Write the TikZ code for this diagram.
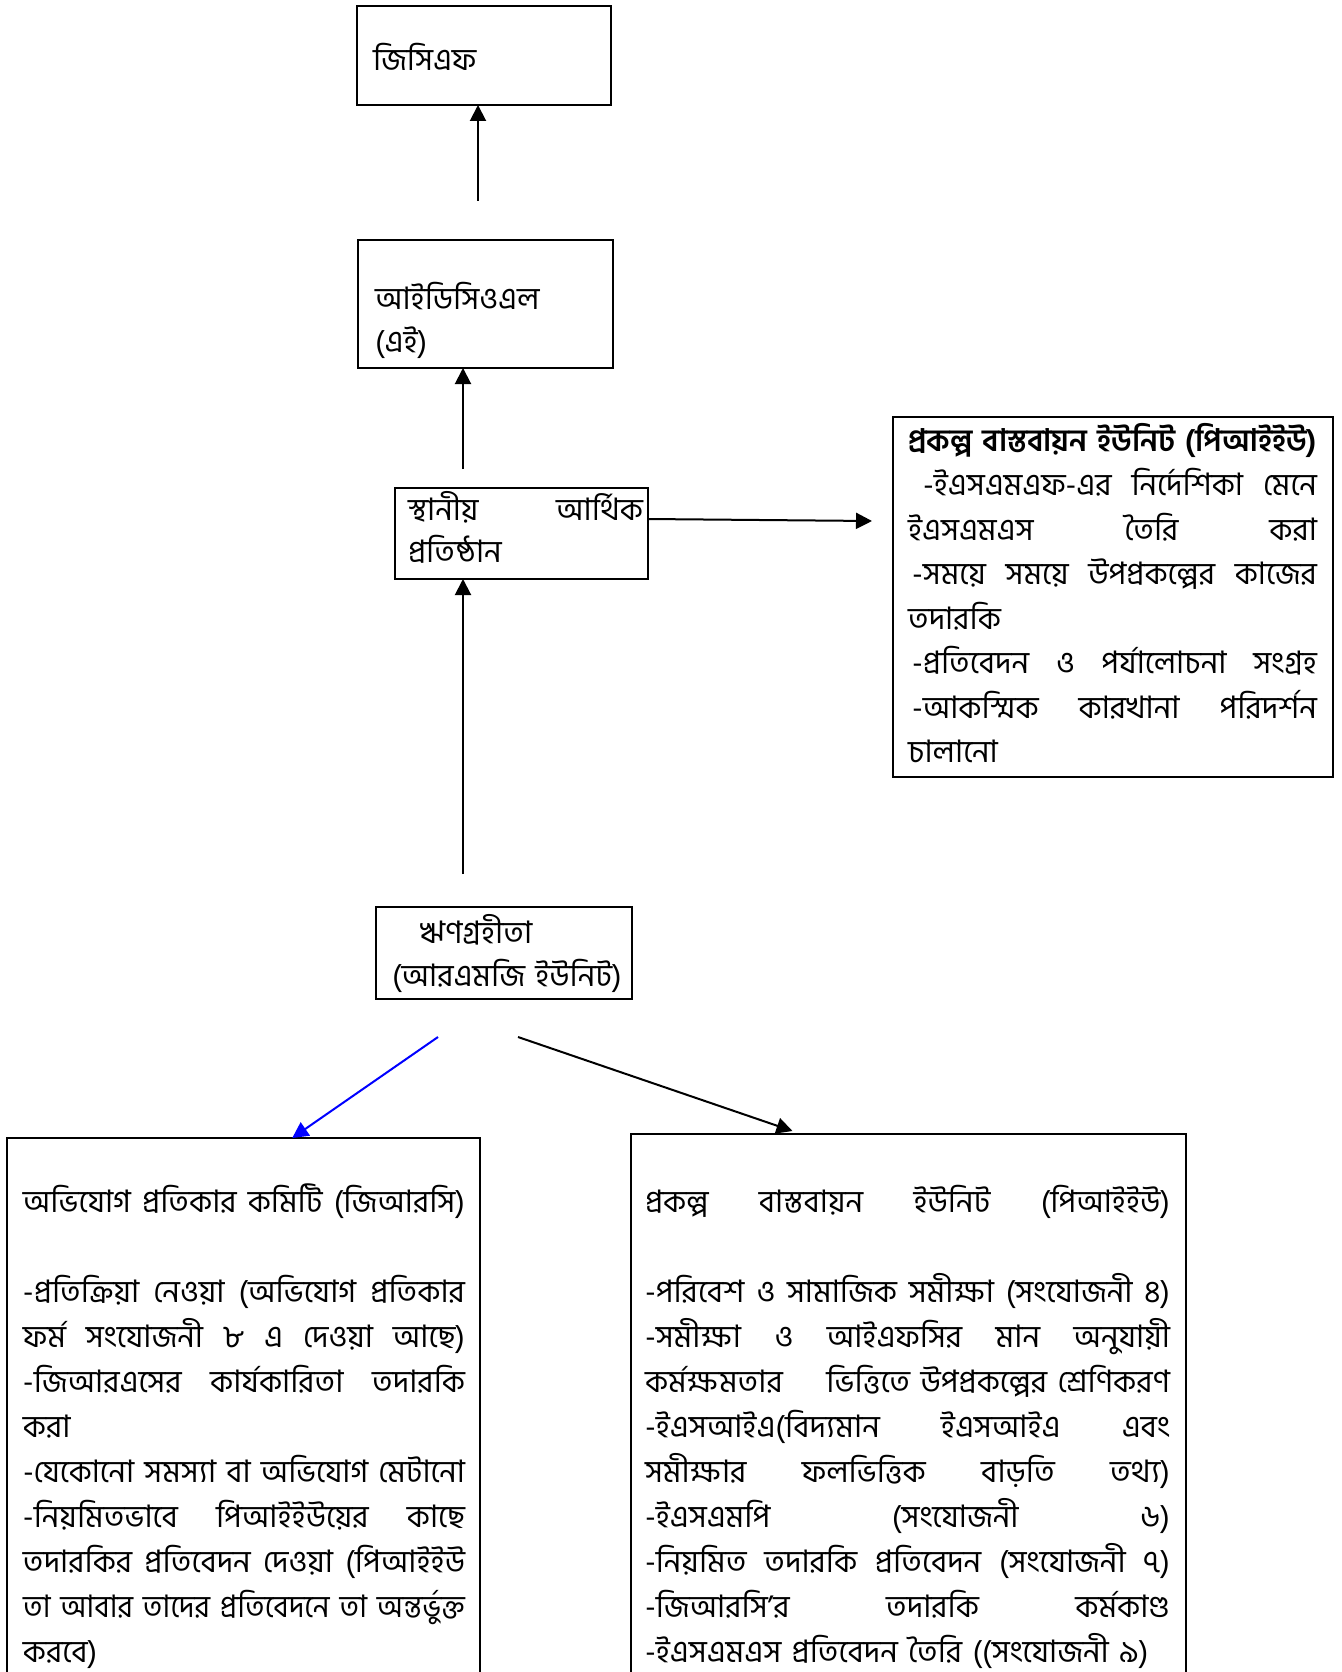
\documentclass[tikz,border=0pt]{standalone}
\usepackage{fontspec}
\usepackage{graphicx}
\newfontfamily\bn[Script=Bengali]{Hind Siliguri}
\usetikzlibrary{arrows.meta,calc}
\newsavebox\jbox
\newdimen\jw
% \jl[indent]{width}{text with \hfill between words}
\newcommand\jl[3][0pt]{\hspace*{#1}\jw=\dimexpr#2-#1\relax\sbox\jbox{#3}%
  \ifdim\wd\jbox>\jw\resizebox{\jw}{\height}{\usebox\jbox}\else\hbox to \jw{#3}\fi}
\begin{document}
\begin{tikzpicture}[x=1pt,y=-1pt,
  box/.style={draw,line width=2pt,inner sep=0pt,outer sep=0pt,anchor=north west},
  txt/.style={anchor=base west,inner sep=0pt,outer sep=0pt,align=left,font=\bn\fontsize{31}{45}\selectfont},
  arr/.style={line width=2pt,-{Triangle[width=16pt,length=16pt]}}]
\clip (0,0) rectangle (1341,1672);
\fill[white] (0,0) rectangle (1341,1672);
% boxes
\node[box,minimum width=254pt,minimum height=99pt] (gcf) at (357,6) {};
\node[box,minimum width=255pt,minimum height=128pt] (idcol) at (358,240) {};
\node[box,minimum width=253pt,minimum height=91pt] (local) at (395,488) {};
\node[box,minimum width=440pt,minimum height=360pt] (piuR) at (893,417) {};
\node[box,minimum width=256pt,minimum height=92pt] (borrower) at (376,907) {};
\node[box,minimum width=473pt,minimum height=600pt] (grc) at (7,1138) {};
\node[box,minimum width=555pt,minimum height=600pt] (piuB) at (631,1134) {};
% texts
\node[txt] (tgcf) at (373,71) {জিসিএফ};
\node[txt,text width=230pt,font=\bn\fontsize{31}{43}\selectfont] (tidcol) at (375,309) {আইডিসিওএল\\(এই)};
\node[txt,text width=235pt,font=\bn\fontsize{31}{42}\selectfont] (tlocal) at (408,520) {\jl{235pt}{স্থানীয় \hfill আর্থিক}\\প্রতিষ্ঠান};
\node[txt,text width=235pt,font=\bn\fontsize{31}{43}\selectfont] (tborrower) at (392,943) {\hspace*{28pt}ঋণগ্রহীতা\\(আরএমজি ইউনিট)};
\node[txt,text width=420pt,font=\bn\fontsize{31}{44.5}\selectfont] (tpiuR) at (908,451) {%
\jl{409pt}{\bfseries প্রকল্প বাস্তবায়ন ইউনিট (পিআইইউ)}\\
\jl[15pt]{409pt}{-ইএসএমএফ-এর \hfill নির্দেশিকা \hfill মেনে}\\
\jl{409pt}{ইএসএমএস \hfill তৈরি \hfill করা}\\
\jl[4pt]{409pt}{-সময়ে \hfill সময়ে \hfill উপপ্রকল্পের \hfill কাজের}\\
তদারকি\\
\jl[4pt]{409pt}{-প্রতিবেদন \hfill ও \hfill পর্যালোচনা \hfill সংগ্রহ}\\
\jl[4pt]{409pt}{-আকস্মিক \hfill কারখানা \hfill পরিদর্শন}\\
চালানো};
\node[txt,text width=450pt] (tgrc) at (23,1212) {%
\jl{442pt}{অভিযোগ \hfill প্রতিকার \hfill কমিটি \hfill (জিআরসি)}\\
\mbox{}\\
\jl{442pt}{-প্রতিক্রিয়া \hfill নেওয়া \hfill (অভিযোগ \hfill প্রতিকার}\\
\jl{442pt}{ফর্ম \hfill সংযোজনী \hfill ৮ \hfill এ \hfill দেওয়া \hfill আছে)}\\
\jl{442pt}{-জিআরএসের \hfill কার্যকারিতা \hfill তদারকি}\\
করা\\
\jl{442pt}{-যেকোনো \hfill সমস্যা \hfill বা \hfill অভিযোগ \hfill মেটানো}\\
\jl{442pt}{-নিয়মিতভাবে \hfill পিআইইউয়ের \hfill কাছে}\\
\jl{442pt}{তদারকির \hfill প্রতিবেদন \hfill দেওয়া \hfill (পিআইইউ}\\
\jl{442pt}{তা \hfill আবার \hfill তাদের \hfill প্রতিবেদনে \hfill তা \hfill অন্তর্ভুক্ত}\\
করবে)};
\node[txt,text width=535pt] (tpiuB) at (645,1212) {%
\jl{525pt}{প্রকল্প \hfill বাস্তবায়ন \hfill ইউনিট \hfill (পিআইইউ)}\\
\mbox{}\\
\jl{525pt}{-পরিবেশ \hfill ও \hfill সামাজিক \hfill সমীক্ষা \hfill (সংযোজনী \hfill ৪)}\\
\jl{525pt}{-সমীক্ষা \hfill ও \hfill আইএফসির \hfill মান \hfill অনুযায়ী}\\
\jl{525pt}{কর্মক্ষমতার \hfill ভিত্তিতে উপপ্রকল্পের শ্রেণিকরণ}\\
\jl{525pt}{-ইএসআইএ(বিদ্যমান \hfill ইএসআইএ \hfill এবং}\\
\jl{525pt}{সমীক্ষার \hfill ফলভিত্তিক \hfill বাড়তি \hfill তথ্য)}\\
\jl{525pt}{-ইএসএমপি \hfill (সংযোজনী \hfill ৬)}\\
\jl{525pt}{-নিয়মিত \hfill তদারকি \hfill প্রতিবেদন \hfill (সংযোজনী \hfill ৭)}\\
\jl{525pt}{-জিআরসি’র \hfill তদারকি \hfill কর্মকাণ্ড}\\
\mbox{-ইএসএমএস প্রতিবেদন তৈরি ((সংযোজনী ৯)}};
% connector free ends
\coordinate (c1) at (478,201);
\coordinate (c2) at (463,469);
\coordinate (c3) at (872,521);
\coordinate (c4) at (463,874);
\coordinate (c5) at (438,1037);
\coordinate (c6) at (518,1037);
% connectors
\draw[arr] (c1) -- (c1 |- gcf.south);
\draw[arr] (c2) -- (c2 |- idcol.south);
\draw[arr] ($(local.north east)+(0,31)$) -- (c3);
\draw[arr] (c4) -- (c4 |- local.south);
\draw[arr,blue] (c5) -- ($(grc.north west)!0.603!(grc.north east)$);
\draw[arr] (c6) -- ($(piuB.north west)!0.291!(piuB.north east)+(0,-3)$);
\end{tikzpicture}
\end{document}
